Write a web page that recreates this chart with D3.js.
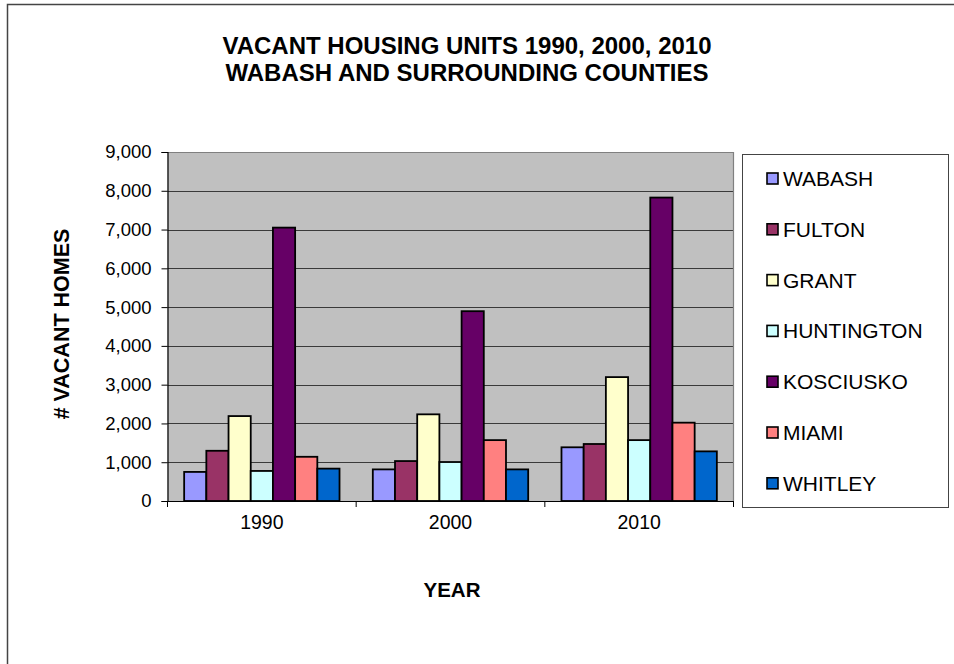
<!DOCTYPE html>
<html><head><meta charset="utf-8">
<script src="https://cdn.jsdelivr.net/npm/d3@7"></script>
<style>body{margin:0;background:#fff;} svg{display:block;font-family:"Liberation Sans",Arial,sans-serif;}</style>
</head><body>
<svg id="chart" width="954" height="664"></svg>
<script>
const years = ["1990", "2000", "2010"];
const counties = ["WABASH", "FULTON", "GRANT", "HUNTINGTON", "KOSCIUSKO", "MIAMI", "WHITLEY"];
const colors = ["#9999FF", "#993366", "#FFFFCC", "#CCFFFF", "#660066", "#FF8080", "#0066CC"];
const wabash = [750, 815, 1385];
const fulton = [1295, 1030, 1470];
const grant = [2190, 2235, 3195];
const huntington = [775, 1005, 1570];
const kosciusko = [7050, 4895, 7825];
const miami = [1140, 1570, 2020];
const whitley = [835, 815, 1280];
const yTicks = [0, 1000, 2000, 3000, 4000, 5000, 6000, 7000, 8000, 9000];
const titleLines = ["VACANT HOUSING UNITS 1990, 2000, 2010", "WABASH AND SURROUNDING COUNTIES"];

const seriesValues = [wabash, fulton, grant, huntington, kosciusko, miami, whitley];
const svg = d3.select("#chart");

// outer frame
svg.append("path").attr("d", "M7.5,664 V4.5 H954").attr("fill", "none").attr("stroke", "#444").attr("stroke-width", 1.5);

const L = 167.5, R = 733.5, T = 152, B = 501;
const x0 = d3.scaleBand().domain(years).range([L, R]).padding(0);
const x1 = d3.scaleBand().domain(counties).range([0, x0.bandwidth()]).paddingInner(0).paddingOuter(0.75);
const y = d3.scaleLinear().domain([0, 9000]).range([B, T]);

svg.append("rect").attr("x", L).attr("y", T).attr("width", R - L).attr("height", B - T).attr("fill", "#C0C0C0");
// gridlines
svg.append("g").selectAll("line").data(yTicks.filter(d => d > 0)).join("line")
  .attr("x1", L).attr("x2", R).attr("y1", d => Math.round(y(d)) + 0.5).attr("y2", d => Math.round(y(d)) + 0.5)
  .attr("stroke", d => d === 9000 ? "#808080" : "#3a3a3a").attr("stroke-width", 1);
svg.append("line").attr("x1", R).attr("x2", R).attr("y1", T).attr("y2", B).attr("stroke", "#808080").attr("stroke-width", 1.2);

// bars
const g = svg.append("g");
years.forEach((yr, i) => {
  counties.forEach((c, j) => {
    const v = seriesValues[j][i];
    g.append("rect")
      .attr("x", x0(yr) + x1(c))
      .attr("y", y(v))
      .attr("width", x1.bandwidth())
      .attr("height", y(0) - y(v))
      .attr("fill", colors[j])
      .attr("stroke", "#000").attr("stroke-width", 1.8);
  });
});

// y axis
const yAxis = d3.axisLeft(y).tickValues(yTicks).tickFormat(d3.format(",")).tickSize(6).tickPadding(10);
const ya = svg.append("g").attr("transform", `translate(${L},0)`).call(yAxis);
ya.select(".domain").attr("stroke", "#000").attr("stroke-width", 1.2);
ya.selectAll(".tick line").attr("stroke", "#000");
ya.selectAll("text").attr("font-size", 18.5).attr("fill", "#000").attr("font-family", "Liberation Sans, Arial, sans-serif");

// x axis
const xAxis = d3.axisBottom(x0).tickSize(0).tickPadding(14);
const xa = svg.append("g").attr("transform", `translate(0,${B})`).call(xAxis);
xa.select(".domain").attr("stroke", "#000").attr("stroke-width", 1.2);
xa.selectAll("text").attr("font-size", 19.5).attr("fill", "#000").attr("font-family", "Liberation Sans, Arial, sans-serif");
// boundary ticks
const bounds = years.map(d => x0(d)).concat([x0(years[years.length - 1]) + x0.bandwidth()]);
svg.append("g").selectAll("line").data(bounds).join("line")
  .attr("x1", d => d).attr("x2", d => d).attr("y1", B).attr("y2", B + 6).attr("stroke", "#000");

// titles
svg.append("text").attr("x", 467).attr("text-anchor", "middle").attr("font-weight", "bold").attr("font-size", 24)
  .selectAll("tspan").data(titleLines).join("tspan").attr("x", 467).attr("y", (d, i) => 54 + i * 26.5).text(d => d);
svg.append("text").attr("transform", "translate(69,324) rotate(-90)").attr("text-anchor", "middle")
  .attr("font-weight", "bold").attr("font-size", 21.5).text("# VACANT HOMES");
svg.append("text").attr("x", 452).attr("y", 597).attr("text-anchor", "middle")
  .attr("font-weight", "bold").attr("font-size", 20.5).text("YEAR");

// legend
const lg = svg.append("g");
lg.append("rect").attr("x", 742.5).attr("y", 154.5).attr("width", 206).attr("height", 353)
  .attr("fill", "#fff").attr("stroke", "#444").attr("stroke-width", 1);
counties.forEach((c, j) => {
  const cy = 178.5 + j * 50.8;
  lg.append("rect").attr("x", 767).attr("y", cy - 5.5).attr("width", 11).attr("height", 11)
    .attr("fill", colors[j]).attr("stroke", "#000").attr("stroke-width", 1.6);
  lg.append("text").attr("x", 783).attr("y", cy + 7.5).attr("font-size", 21).text(c);
});
</script>
</body></html>
